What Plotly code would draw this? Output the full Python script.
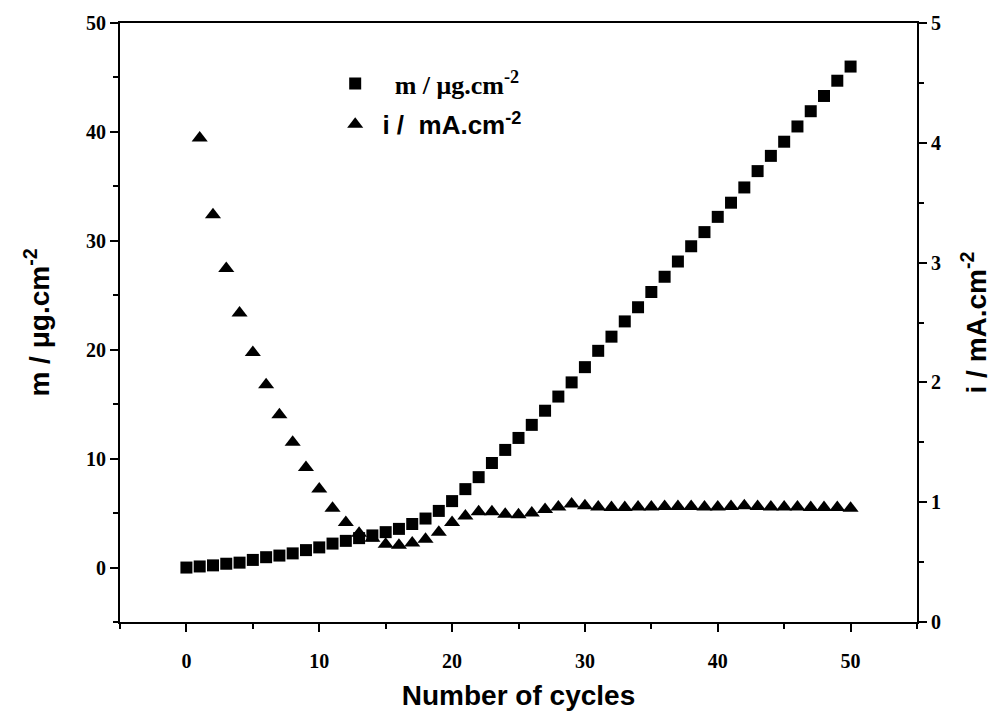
import plotly.graph_objects as go

# ---- data ----
cycles_m = list(range(0, 51))
mass = [0.0, 0.1, 0.2, 0.35, 0.45, 0.7, 0.95, 1.1, 1.3, 1.6, 1.85,
        2.2, 2.45, 2.7, 2.95, 3.25, 3.55, 4.0, 4.5, 5.2, 6.1,
        7.2, 8.3, 9.6, 10.8, 11.9, 13.1, 14.4, 15.7, 17.0, 18.4,
        19.9, 21.2, 22.6, 23.9, 25.3, 26.7, 28.1, 29.5, 30.8, 32.2,
        33.5, 34.9, 36.4, 37.8, 39.1, 40.5, 41.9, 43.3, 44.7, 46.0]

cycles_i = list(range(1, 51))
current = [4.04, 3.40, 2.95, 2.58, 2.25, 1.98, 1.73, 1.50, 1.29, 1.11,
           0.95, 0.83, 0.74, 0.70, 0.65, 0.64, 0.66, 0.69, 0.75, 0.83,
           0.885, 0.92, 0.92, 0.90, 0.895, 0.91, 0.94, 0.96, 0.985, 0.97,
           0.96, 0.955, 0.955, 0.96, 0.96, 0.965, 0.965, 0.965, 0.96, 0.96,
           0.965, 0.97, 0.965, 0.96, 0.96, 0.96, 0.955, 0.955, 0.955, 0.95]

x_ticks = [0, 10, 20, 30, 40, 50]
y1_ticks = [0, 10, 20, 30, 40, 50]
y2_ticks = [0, 1, 2, 3, 4, 5]

SERIF = "Liberation Serif, Times New Roman, serif"
SANS = "Liberation Sans, Arial, sans-serif"

fig = go.Figure()
fig.add_trace(go.Scatter(
    x=cycles_m, y=mass, mode="markers", yaxis="y",
    marker=dict(symbol="square", size=12, color="black"),
    name='<span style="font-family:Liberation Serif"><b>&nbsp;&nbsp;&nbsp;m / μg.cm<sup>-2</sup></b></span>',
    legendgroup="a",
))
fig.add_trace(go.Scatter(
    x=cycles_i, y=current, mode="markers", yaxis="y2",
    marker=dict(symbol="triangle-up", size=14, color="black"),
    name='<span style="font-family:Liberation Sans"><b>&nbsp;i /&nbsp;&nbsp;mA.cm<sup>-2</sup></b></span>',
    legendgroup="b",
))

axis_common = dict(
    showgrid=False, zeroline=False, showline=True, linecolor="black", linewidth=2,
    ticks="outside", ticklen=8, tickwidth=2, tickcolor="black", automargin=False,
    tickfont=dict(family=SERIF, size=20, color="black", weight="bold"),
)

fig.update_layout(
    width=992, height=711,
    margin=dict(l=120, r=75, t=23, b=89),
    paper_bgcolor="white", plot_bgcolor="white",
    showlegend=True,
    legend=dict(x=0.27, y=0.938, xanchor="left", yanchor="top",
                font=dict(size=26, color="black"), bgcolor="rgba(0,0,0,0)",
                tracegroupgap=4),
    xaxis=dict(range=[-5, 55], tickvals=x_ticks, mirror=True, ticklabelstandoff=12,
               minor=dict(dtick=5, ticklen=5, tickwidth=2, tickcolor="black", ticks="outside"),
               title=dict(text="<b>Number of cycles</b>", font=dict(family=SANS, size=28, color="black"), standoff=20),
               **axis_common),
    yaxis=dict(range=[-5, 50], tickvals=y1_ticks,
               minor=dict(dtick=5, ticklen=5, tickwidth=2, tickcolor="black", ticks="outside"),
               title=dict(text="<b>m / μg.cm<sup>-2</sup></b>", font=dict(family=SANS, size=28, color="black"), standoff=28),
               **axis_common),
    yaxis2=dict(range=[0, 5], tickvals=y2_ticks, overlaying="y", side="right",
                minor=dict(dtick=0.5, ticklen=5, tickwidth=2, tickcolor="black", ticks="outside"),
                title=dict(text="<b>i / mA.cm<sup>-2</sup></b>", font=dict(family=SANS, size=28, color="black"), standoff=28),
                **axis_common),
)

fig.write_html("out.html")
